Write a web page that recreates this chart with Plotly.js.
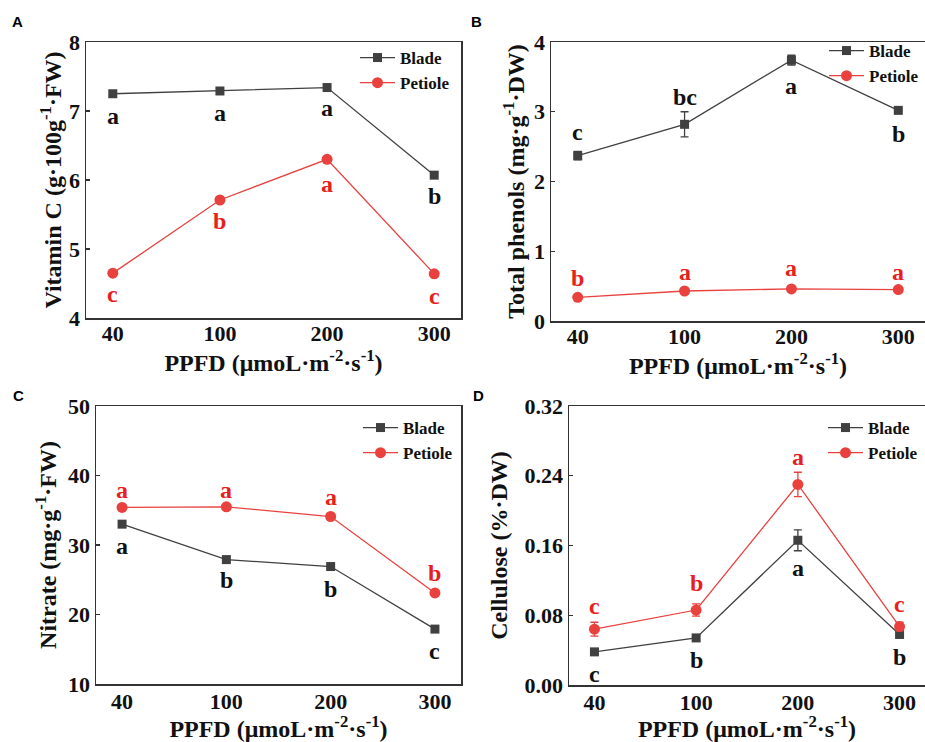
<!DOCTYPE html>
<html>
<head>
<meta charset="utf-8">
<script src="https://cdn.plot.ly/plotly-3.0.1.min.js"></script>
<style>html,body{margin:0;padding:0;background:#fff;}#chart{width:925px;height:742px;}</style>
</head>
<body>
<div id="chart"></div>
<script>
// ---------- data ----------
const ppfd = ['40', '100', '200', '300'];

const vitCBlade   = [7.25, 7.29, 7.34, 6.07];
const vitCPetiole = [4.65, 5.71, 6.30, 4.64];
const vitCBladeLetters   = ['a', 'a', 'a', 'b'];
const vitCPetioleLetters = ['c', 'b', 'a', 'c'];

const phenBlade      = [2.37, 2.82, 3.74, 3.02];
const phenBladeErr   = [0.06, 0.18, 0.07, 0.02];
const phenPetiole    = [0.34, 0.43, 0.46, 0.45];
const phenBladeLetters   = ['c', 'bc', 'a', 'b'];
const phenPetioleLetters = ['b', 'a', 'a', 'a'];

const nitBlade   = [33.0, 27.9, 26.9, 17.9];
const nitPetiole = [35.4, 35.5, 34.1, 23.1];
const nitBladeLetters   = ['a', 'b', 'b', 'c'];
const nitPetioleLetters = ['a', 'a', 'a', 'b'];

const celBlade      = [0.038, 0.054, 0.166, 0.058];
const celBladeErr   = [0.002, 0.003, 0.012, 0.004];
const celPetiole    = [0.064, 0.086, 0.230, 0.067];
const celPetioleErr = [0.008, 0.007, 0.014, 0.005];
const celBladeLetters   = ['c', 'b', 'a', 'b'];
const celPetioleLetters = ['c', 'b', 'a', 'c'];

// ---------- styling ----------
const SERIF = 'Liberation Serif, Times New Roman, serif';
const BLADE = '#404040';
const PET = '#e8413e';
const PET_TXT = '#e8201c';
const W = 925, H = 742;

function mkTrace(name, y, err, color, symbol, size, xa, ya, legend) {
  const t = {
    type: 'scatter', mode: 'lines+markers', name: name,
    x: ppfd, y: y, xaxis: xa, yaxis: ya, legend: legend,
    line: {color: color, width: 1.3},
    marker: {color: color, symbol: symbol, size: size},
    cliponaxis: false
  };
  if (err) t.error_y = {type: 'data', array: err, visible: true, color: color, thickness: 1.3, width: 4};
  return t;
}

const panels = [
  {xa: 'x', ya: 'y', lg: 'legend', blade: vitCBlade, pet: vitCPetiole, bErr: null, pErr: null,
   bL: vitCBladeLetters, pL: vitCPetioleLetters,
   bShift: [-22, -22, -20, -21], pShift: [-21, -21, -25, -22]},
  {xa: 'x2', ya: 'y2', lg: 'legend2', blade: phenBlade, pet: phenPetiole, bErr: phenBladeErr, pErr: null,
   bL: phenBladeLetters, pL: phenPetioleLetters,
   bShift: [24, 27, -26, -24], pShift: [19, 19, 21, 18]},
  {xa: 'x3', ya: 'y3', lg: 'legend3', blade: nitBlade, pet: nitPetiole, bErr: null, pErr: null,
   bL: nitBladeLetters, pL: nitPetioleLetters,
   bShift: [-22, -20, -22, -22], pShift: [17, 17, 20, 20]},
  {xa: 'x4', ya: 'y4', lg: 'legend4', blade: celBlade, pet: celPetiole, bErr: celBladeErr, pErr: celPetioleErr,
   bL: celBladeLetters, pL: celPetioleLetters,
   bShift: [-22, -22, -28, -23], pShift: [23, 27, 27, 23]}
];

const data = [];
const annotations = [];
panels.forEach(p => {
  data.push(mkTrace('Blade', p.blade, p.bErr, BLADE, 'square', 9, p.xa, p.ya, p.lg));
  data.push(mkTrace('Petiole', p.pet, p.pErr, PET, 'circle', 11, p.xa, p.ya, p.lg));
  ppfd.forEach((c, i) => {
    annotations.push({xref: p.xa, yref: p.ya, x: i, y: p.blade[i], text: p.bL[i], showarrow: false,
      xanchor: 'center', yanchor: 'middle',
      yshift: p.bShift[i], font: {family: SERIF, size: 24, color: '#111', weight: 700}});
    annotations.push({xref: p.xa, yref: p.ya, x: i, y: p.pet[i], text: p.pL[i], showarrow: false,
      xanchor: 'center', yanchor: 'middle',
      yshift: p.pShift[i], font: {family: SERIF, size: 24, color: PET_TXT, weight: 700}});
  });
});

// panel letters
[['A', 17, 22], ['B', 477, 22], ['C', 18, 395], ['D', 478, 395]].forEach(([t, px, py]) => {
  annotations.push({xref: 'paper', yref: 'paper', x: px / W, y: 1 - py / H, text: t, showarrow: false,
    xanchor: 'center', yanchor: 'middle', font: {family: 'Liberation Sans, Arial, sans-serif', size: 15, color: '#000', weight: 700}});
});

const xTitle = 'PPFD (μmoL·m<sup>-2</sup>·s<sup>-1</sup>)';
function xAxis(dom, anchor, standoff, labelShift) {
  return {domain: dom, anchor: anchor, type: 'category', categoryorder: 'array', categoryarray: ppfd,
    range: [-0.25, 3.25], showline: true, mirror: true, linecolor: '#333', linewidth: 1.5,
    ticks: '', showgrid: false, zeroline: false, automargin: false, ticklabelstandoff: labelShift,
    tickfont: {family: SERIF, size: 22, color: '#111', weight: 700},
    title: {text: xTitle, font: {family: SERIF, size: 24, color: '#111', weight: 700}, standoff: standoff}};
}
function yAxis(dom, anchor, range, dtick, title, standoff, fmt) {
  const a = {domain: dom, anchor: anchor, range: range, dtick: dtick, tick0: range[0],
    showline: true, mirror: true, linecolor: '#333', linewidth: 1.5, automargin: false,
    ticks: 'inside', ticklen: 4, tickcolor: '#333', tickwidth: 1.3, showgrid: false, zeroline: false,
    tickfont: {family: SERIF, size: 22, color: '#111', weight: 700},
    title: {text: title, font: {family: SERIF, size: 24, color: '#111', weight: 700}, standoff: standoff}};
  if (fmt) a.tickformat = fmt;
  return a;
}
function legendAt(px, py) {
  return {x: px / W, y: 1 - py / H, xanchor: 'left', yanchor: 'top', bgcolor: 'rgba(0,0,0,0)',
    font: {family: SERIF, size: 17, color: '#111', weight: 700}, itemwidth: 35, tracegroupgap: 0};
}

const layout = {
  width: W, height: H, margin: {l: 0, r: 0, t: 0, b: 0},
  paper_bgcolor: '#fff', plot_bgcolor: '#fff', showlegend: true,
  xaxis:  xAxis([86 / W, 461 / W], 'y', 0, -5),
  yaxis:  yAxis([1 - 318 / H, 1 - 42 / H], 'x', [4, 8], 1, 'Vitamin C (g·100g<sup>-1</sup>·FW)', 0),
  xaxis2: xAxis([551 / W, 1], 'y2', 0, -5),
  yaxis2: yAxis([1 - 321 / H, 1 - 42 / H], 'x2', [0, 4], 1, 'Total phenols (mg·g<sup>-1</sup>·DW)', 2),
  xaxis3: xAxis([96 / W, 461 / W], 'y3', 6, -3),
  yaxis3: yAxis([1 - 684 / H, 1 - 406 / H], 'x3', [10, 50], 10, 'Nitrate (mg·g<sup>-1</sup>·FW)', 4),
  xaxis4: xAxis([569 / W, 1], 'y4', 6, -3),
  yaxis4: yAxis([1 - 685 / H, 1 - 406 / H], 'x4', [0, 0.32], 0.08, 'Cellulose (%·DW)', 10, '.2f'),
  legend:  legendAt(355, 40),
  legend2: legendAt(824, 33),
  legend3: legendAt(358, 410),
  legend4: legendAt(823, 410),
  annotations: annotations
};

Plotly.newPlot('chart', data, layout, {displayModeBar: false, staticPlot: true});
</script>
</body>
</html>
